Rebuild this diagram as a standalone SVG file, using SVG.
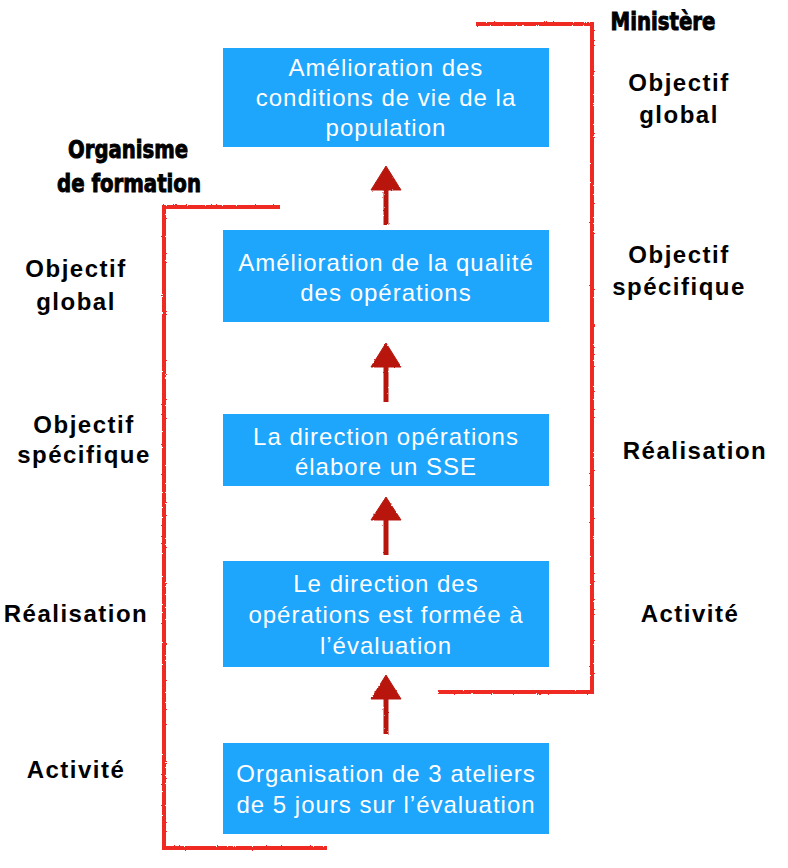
<svg xmlns="http://www.w3.org/2000/svg" width="788" height="868" viewBox="0 0 788 868">
<style>
.box{fill:#1EA5FC;}
.bt{font-family:"Liberation Sans",Arial,sans-serif;font-size:24px;fill:#ffffff;text-anchor:middle;letter-spacing:1px;}
.lbl{font-family:"Liberation Sans",Arial,sans-serif;font-size:24px;font-weight:bold;fill:#000;text-anchor:middle;letter-spacing:1.5px;}
.hd{font-family:"Liberation Sans Narrow","DejaVu Sans Condensed","Liberation Sans",sans-serif;font-size:25px;font-weight:bold;fill:#000;stroke:#000;stroke-width:0.9;text-anchor:middle;}
.br{fill:none;stroke:#EE2A24;stroke-width:4;stroke-linejoin:miter;filter:url(#rough);}
.ar{fill:#B8170F;stroke:#B8170F;stroke-width:1;filter:url(#rough);}
.sh{stroke:#B8170F;stroke-width:5;fill:none;filter:url(#rough);}
</style>
<defs>
<filter id="rough" filterUnits="userSpaceOnUse" x="0" y="0" width="788" height="868">
<feTurbulence type="fractalNoise" baseFrequency="0.9" numOctaves="2" seed="3" result="n"/>
<feDisplacementMap in="SourceGraphic" in2="n" scale="2.2" xChannelSelector="R" yChannelSelector="G"/>
</filter>
</defs>
<rect width="788" height="868" fill="#ffffff"/>

<g id="brackets">
<path class="br" d="M476,24 H592 V692 H438"/>
<path class="br" d="M280,207 H164 V848 H327"/>
</g>

<g id="connectors">
<g id="arrow1"><path class="sh" d="M386,188 V225"/><polygon class="ar" points="386,166 371,190 401,190"/></g>
<g id="arrow2"><path class="sh" d="M386,365 V402"/><polygon class="ar" points="386,343 371,367 401,367"/></g>
<g id="arrow3"><path class="sh" d="M386,518 V555"/><polygon class="ar" points="386,497 371,520 401,520"/></g>
<g id="arrow4"><path class="sh" d="M386,697 V734"/><polygon class="ar" points="386,675 371,699 401,699"/></g>
</g>

<g id="node1">
<rect class="box" x="223" y="48" width="326" height="99"/>
<text class="bt" x="386" y="76">Amélioration des</text>
<text class="bt" x="386" y="106">conditions de vie de la</text>
<text class="bt" x="386" y="136">population</text>
</g>
<g id="node2">
<rect class="box" x="223" y="230" width="326" height="92"/>
<text class="bt" x="386" y="271">Amélioration de la qualité</text>
<text class="bt" x="386" y="301">des opérations</text>
</g>
<g id="node3">
<rect class="box" x="223" y="414" width="326" height="72"/>
<text class="bt" x="386" y="445">La direction opérations</text>
<text class="bt" x="386" y="475">élabore un SSE</text>
</g>
<g id="node4">
<rect class="box" x="223" y="561" width="326" height="106"/>
<text class="bt" x="386" y="592">Le direction des</text>
<text class="bt" x="386" y="623">opérations est formée à</text>
<text class="bt" x="386" y="654">l’évaluation</text>
</g>
<g id="node5">
<rect class="box" x="223" y="743" width="326" height="91"/>
<text class="bt" x="386" y="782">Organisation de 3 ateliers</text>
<text class="bt" x="386" y="813">de 5 jours sur l’évaluation</text>
</g>

<g id="headings">
<text class="hd" x="663" y="30" textLength="105" lengthAdjust="spacingAndGlyphs">Ministère</text>
<text class="hd" x="128" y="158" textLength="120" lengthAdjust="spacingAndGlyphs">Organisme</text>
<text class="hd" x="129" y="192" textLength="144" lengthAdjust="spacingAndGlyphs">de formation</text>
</g>

<g id="labels-left">
<text class="lbl" x="76" y="277">Objectif</text>
<text class="lbl" x="76" y="310">global</text>
<text class="lbl" x="84" y="433">Objectif</text>
<text class="lbl" x="84" y="463">spécifique</text>
<text class="lbl" x="76" y="622">Réalisation</text>
<text class="lbl" x="76" y="778">Activité</text>
</g>
<g id="labels-right">
<text class="lbl" x="679" y="91">Objectif</text>
<text class="lbl" x="679" y="123">global</text>
<text class="lbl" x="679" y="263">Objectif</text>
<text class="lbl" x="679" y="295">spécifique</text>
<text class="lbl" x="695" y="459">Réalisation</text>
<text class="lbl" x="690" y="622">Activité</text>
</g>
</svg>
